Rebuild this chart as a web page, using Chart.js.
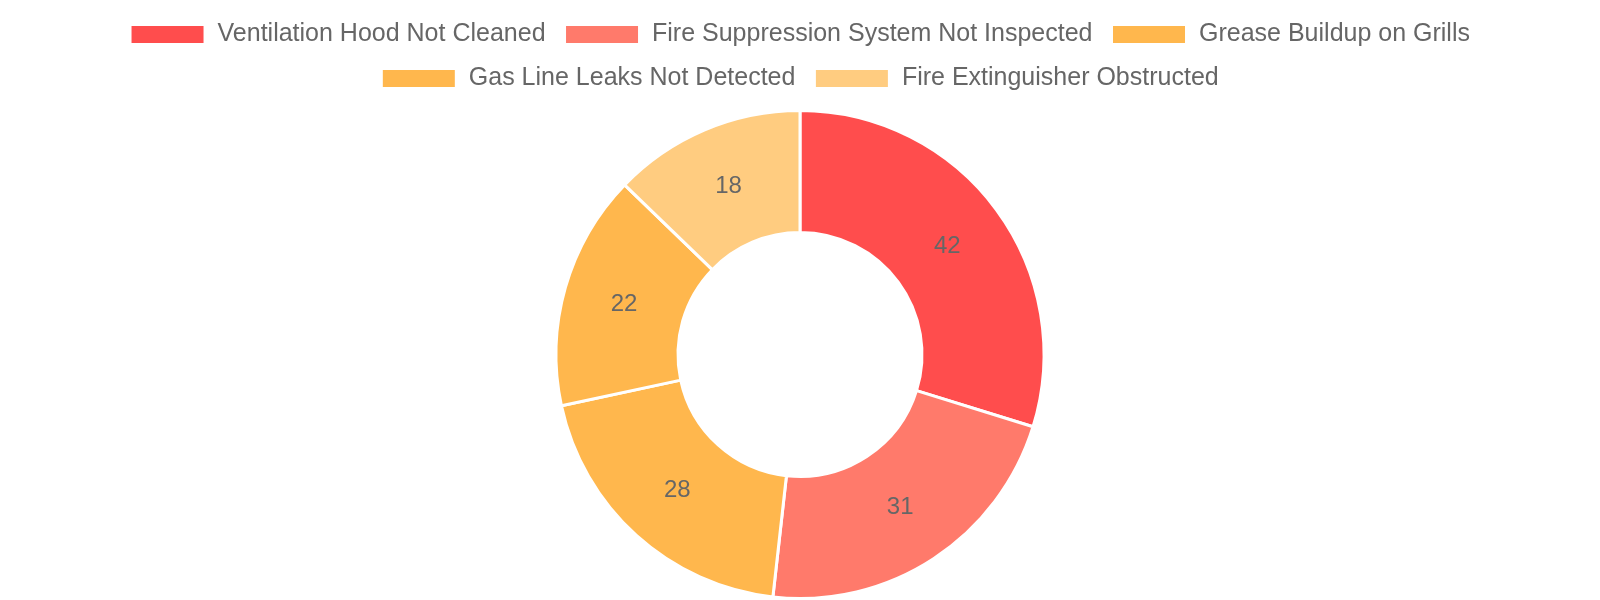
<!DOCTYPE html>
<html>
<head>
<meta charset="utf-8">
<script src="https://cdn.jsdelivr.net/npm/chart.js@4"></script>
<style>
  html, body { margin: 0; padding: 0; background: #fff; }
  #wrap { width: 1600px; height: 600px; }
</style>
</head>
<body>
<div id="wrap"><canvas id="chart"></canvas></div>
<script>
const categories = [
  'Ventilation Hood Not Cleaned',
  'Fire Suppression System Not Inspected',
  'Grease Buildup on Grills',
  'Gas Line Leaks Not Detected',
  'Fire Extinguisher Obstructed'
];
const violations = [42, 31, 28, 22, 18];
const sliceColors = ['#FF4D4D', '#FF7A6B', '#FFB74D', '#FFB74D', '#FFCC80'];

// draw each value in the middle of its slice
const valueLabels = {
  id: 'valueLabels',
  afterDatasetsDraw(chart) {
    const ctx = chart.ctx;
    const meta = chart.getDatasetMeta(0);
    ctx.save();
    ctx.font = '24px "Liberation Sans", Arial, sans-serif';
    ctx.fillStyle = '#666';
    ctx.textAlign = 'center';
    ctx.textBaseline = 'middle';
    meta.data.forEach((arc, i) => {
      const pos = arc.tooltipPosition();
      ctx.fillText(String(chart.data.datasets[0].data[i]), pos.x, pos.y);
    });
    ctx.restore();
  }
};

// a bit more room under the legend
const legendGap = {
  id: 'legendGap',
  beforeInit(chart) {
    const fit = chart.legend.fit;
    chart.legend.fit = function () {
      fit.call(this);
      this.height += 8;
    };
  }
};

Chart.defaults.font.family = '"Liberation Sans", Arial, sans-serif';
Chart.defaults.color = '#666';

new Chart(document.getElementById('chart'), {
  type: 'doughnut',
  data: {
    labels: categories,
    datasets: [{
      data: violations,
      backgroundColor: sliceColors,
      borderColor: '#fff',
      borderWidth: 3
    }]
  },
  options: {
    responsive: true,
    maintainAspectRatio: false,
    animation: false,
    cutout: '50%',
    layout: { padding: { top: 3, bottom: 0 } },
    plugins: {
      legend: {
        position: 'top',
        labels: {
          boxWidth: 75,
          boxHeight: 20,
          padding: 19,
          font: { size: 25 },
          color: '#666'
        }
      },
      tooltip: { enabled: false }
    }
  },
  plugins: [valueLabels, legendGap]
});
</script>
</body>
</html>
